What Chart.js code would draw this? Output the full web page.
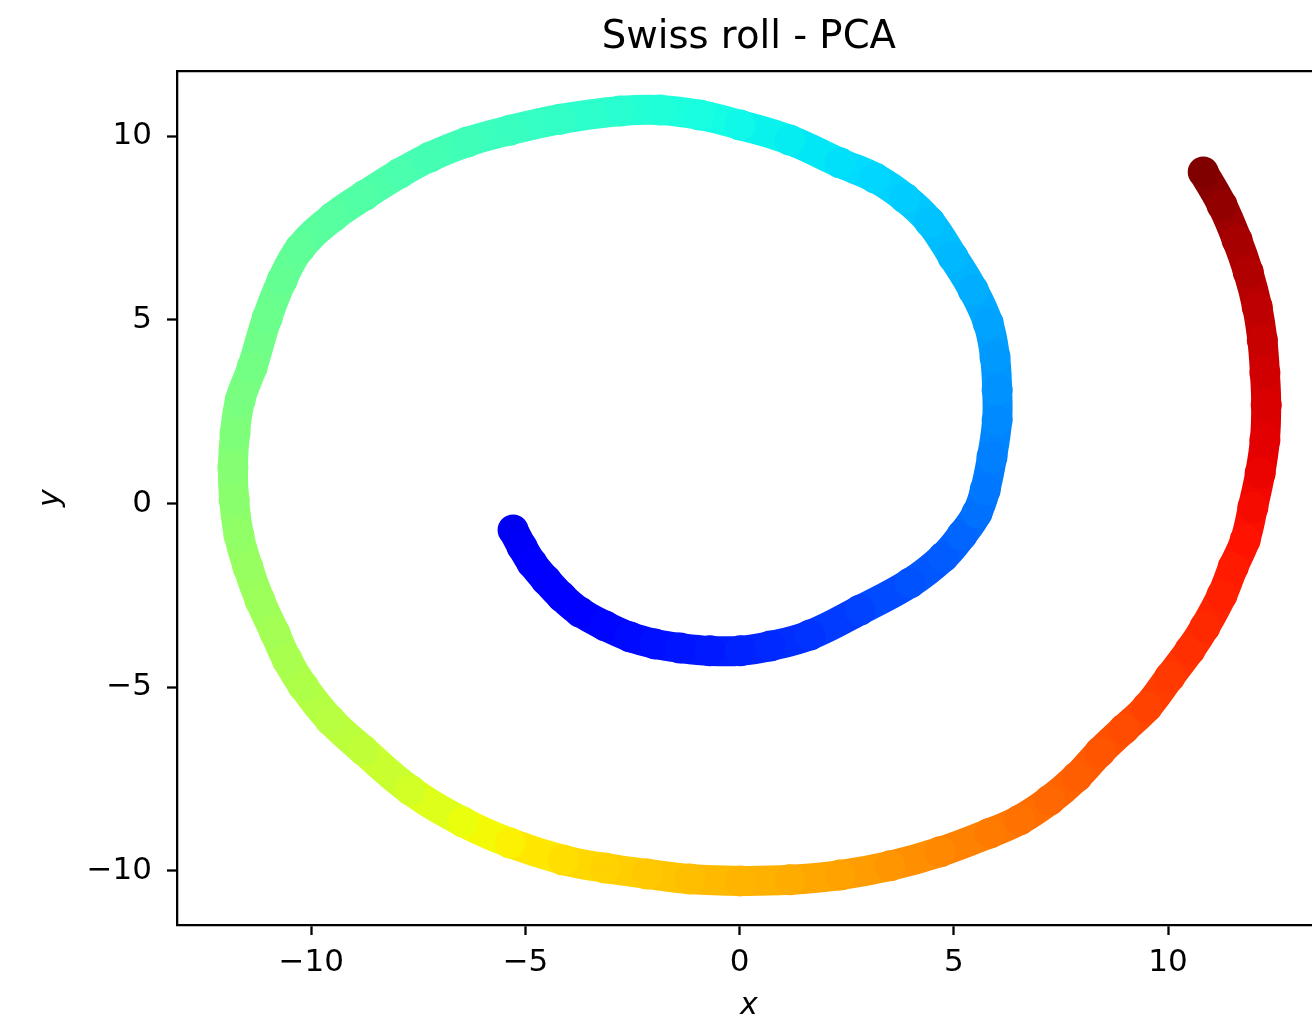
<!DOCTYPE html>
<html>
<head>
<meta charset="utf-8">
<script src="https://cdn.jsdelivr.net/npm/chart.js@4.4.1/dist/chart.umd.min.js"></script>
<style>
  html, body { margin: 0; padding: 0; background: #fff; overflow: hidden; width: 1312px; height: 1018px; }
  #wrap { width: 1322px; height: 1018px; overflow: hidden; }
  canvas { display: block; }
</style>
</head>
<body>
<div id="wrap"><canvas id="c" width="1322" height="1018" style="width:1322px;height:1018px"></canvas></div>
<script>
// ---- Data (centre line of the point band) ----
const titleText = 'Swiss roll - PCA';
const xLabel = 'x';
const yLabel = 'y';
const xTicks = [-10, -5, 0, 5, 10];
const yTicks = [-10, -5, 0, 5, 10];
const xRange = [-13.135, 13.56];
const yRange = [-11.47, 11.77];

const xs = [-5.29,-5.08,-4.85,-4.52,-4.15,-3.73,-3.14,-2.56,-1.98,-1.39,-0.69,0.01,0.71,1.64,2.81,3.98,4.75,5.19,5.54,5.73,
  5.89,6.01,6.01,5.96,5.80,5.45,4.98,4.44,3.86,3.16,2.34,1.17,0.01,-0.93,-1.86,-2.79,-4.19,-5.36,-6.36,-7.23,
  -7.93,-8.75,-9.49,-10.26,-10.68,-11.03,-11.38,-11.66,-11.78,-11.83,-11.80,-11.69,-11.48,-11.20,-10.85,-10.56,-10.19,-9.56,-8.79,-7.69,
  -6.46,-5.36,-4.12,-3.14,-2.16,-1.16,0.01,1.17,2.34,3.51,4.68,5.84,6.54,7.24,7.87,8.41,8.97,9.51,10.04,10.51,
  10.86,11.26,11.52,11.80,11.98,12.15,12.26,12.29,12.26,12.20,12.08,11.87,11.61,11.26,10.82];
const ys = [-0.72,-1.18,-1.62,-2.08,-2.54,-2.95,-3.33,-3.63,-3.82,-3.93,-4.01,-4.01,-3.88,-3.58,-2.90,-2.16,-1.46,-0.86,-0.26,0.37,
  1.27,2.27,3.09,3.99,4.91,5.81,6.71,7.66,8.31,8.86,9.27,9.89,10.30,10.57,10.71,10.68,10.46,10.16,9.84,9.43,
  8.99,8.39,7.80,6.95,6.08,5.05,3.71,2.82,1.92,0.99,0.10,-0.86,-1.73,-2.63,-3.52,-4.26,-4.97,-5.89,-6.71,-7.80,
  -8.67,-9.24,-9.70,-9.92,-10.08,-10.22,-10.27,-10.24,-10.11,-9.86,-9.48,-8.97,-8.61,-8.07,-7.44,-6.76,-6.14,-5.54,-4.72,-3.99,
  -3.36,-2.49,-1.73,-0.99,-0.10,0.83,1.73,2.68,3.55,4.45,5.35,6.30,7.17,8.12,9.02];
const cs = [0.100,0.105,0.110,0.115,0.120,0.125,0.130,0.135,0.140,0.145,0.150,0.158,0.165,0.175,0.190,0.205,0.215,0.225,0.235,0.242,
  0.250,0.260,0.268,0.276,0.285,0.295,0.305,0.315,0.325,0.335,0.345,0.357,0.368,0.378,0.388,0.397,0.410,0.418,0.426,0.433,
  0.440,0.448,0.455,0.464,0.472,0.480,0.490,0.496,0.503,0.510,0.518,0.526,0.534,0.541,0.548,0.555,0.562,0.572,0.583,0.605,
  0.635,0.655,0.675,0.688,0.698,0.708,0.718,0.728,0.738,0.752,0.766,0.780,0.790,0.800,0.810,0.820,0.830,0.840,0.850,0.860,
  0.867,0.876,0.883,0.890,0.898,0.907,0.915,0.922,0.930,0.938,0.947,0.957,0.967,0.983,1.000];

// ---- jet colormap (matplotlib segment data) ----
const JET = {
  r: [[0,0],[0.35,0],[0.66,1],[0.89,1],[1,0.5]],
  g: [[0,0],[0.125,0],[0.375,1],[0.64,1],[0.91,0],[1,0]],
  b: [[0,0.5],[0.11,1],[0.34,1],[0.65,0],[1,0]]
};
function seg(tab, v) {
  for (let i = 1; i < tab.length; i++) {
    if (v <= tab[i][0]) {
      const [x0, y0] = tab[i-1], [x1, y1] = tab[i];
      return y0 + (y1 - y0) * (v - x0) / (x1 - x0);
    }
  }
  return tab[tab.length-1][1];
}
function jet(v) {
  v = Math.max(0, Math.min(1, v));
  const r = Math.round(255*seg(JET.r, v)), g = Math.round(255*seg(JET.g, v)), b = Math.round(255*seg(JET.b, v));
  return `rgb(${r},${g},${b})`;
}

const points = xs.map((x, i) => ({x, y: ys[i]}));
const pointColors = cs.map(jet);

const TICK_FONT = {family: 'DejaVu Sans', size: 31};
const LABEL_FONT = {family: 'DejaVu Sans', size: 30, style: 'italic', lineHeight: 0.8};
const minus = v => (v < 0 ? '\u2212' + Math.abs(v) : String(v));
const noPad = s => { s.paddingLeft = 0; s.paddingRight = 0; s.paddingTop = 0; s.paddingBottom = 0; };

new Chart(document.getElementById('c'), {
  type: 'scatter',
  data: {
    datasets: [{
      data: points,
      showLine: true,
      tension: 0.4,
      borderWidth: 30,
      borderCapStyle: 'round',
      borderJoinStyle: 'round',
      borderColor: pointColors[0],
      segment: {
        borderColor: ctx => jet((cs[ctx.p0DataIndex] + cs[ctx.p1DataIndex]) / 2)
      },
      pointRadius: 15.5,
      pointBorderWidth: 0,
      pointBackgroundColor: pointColors,
      pointHoverRadius: 15.5
    }]
  },
  options: {
    responsive: false,
    animation: false,
    devicePixelRatio: 1,
    layout: { autoPadding: false, padding: {left: 0, right: 1.4, top: 0, bottom: 0} },
    plugins: {
      legend: { display: false },
      tooltip: { enabled: false },
      title: {
        display: true,
        text: titleText,
        fullSize: false,
        color: '#000',
        font: {family: 'DejaVu Sans', size: 38.6, weight: 'normal', lineHeight: 1.2},
        padding: {top: 15, bottom: 0}
      }
    },
    scales: {
      x: {
        type: 'linear',
        position: 'bottom',
        min: xRange[0], max: xRange[1],
        afterBuildTicks: s => { s.ticks = xTicks.map(v => ({value: v})); },
        afterFit: s => { s.height = 93; noPad(s); },
        grid: { drawOnChartArea: false, drawTicks: true, tickLength: 10, tickWidth: 2.3, tickColor: '#000' },
        border: { display: true, color: '#000', width: 2.3 },
        ticks: { font: TICK_FONT, color: '#000', padding: 9, maxRotation: 0, autoSkip: false, callback: v => minus(v) },
        title: { display: true, text: xLabel, color: '#000', font: LABEL_FONT, padding: {top: 0, bottom: 0} }
      },
      xTop: {
        type: 'linear',
        position: 'top',
        min: xRange[0], max: xRange[1],
        afterFit: s => { s.height = 71 - 15 - 38.6 * 1.2; noPad(s); },
        grid: { display: false, drawTicks: false },
        border: { display: true, color: '#000', width: 2.3 },
        ticks: { display: false }
      },
      y: {
        type: 'linear',
        position: 'left',
        min: yRange[0], max: yRange[1],
        afterBuildTicks: s => { s.ticks = yTicks.map(v => ({value: v})); },
        afterFit: s => { s.width = 177; noPad(s); },
        grid: { drawOnChartArea: false, drawTicks: true, tickLength: 10, tickWidth: 2.3, tickColor: '#000' },
        border: { display: true, color: '#000', width: 2.3 },
        ticks: { font: TICK_FONT, color: '#000', padding: 15, autoSkip: false, callback: v => minus(v) },
        title: { display: true, text: yLabel, color: '#000', font: LABEL_FONT, padding: {top: 39, bottom: 0} }
      }
    }
  }
});
</script>
</body>
</html>
